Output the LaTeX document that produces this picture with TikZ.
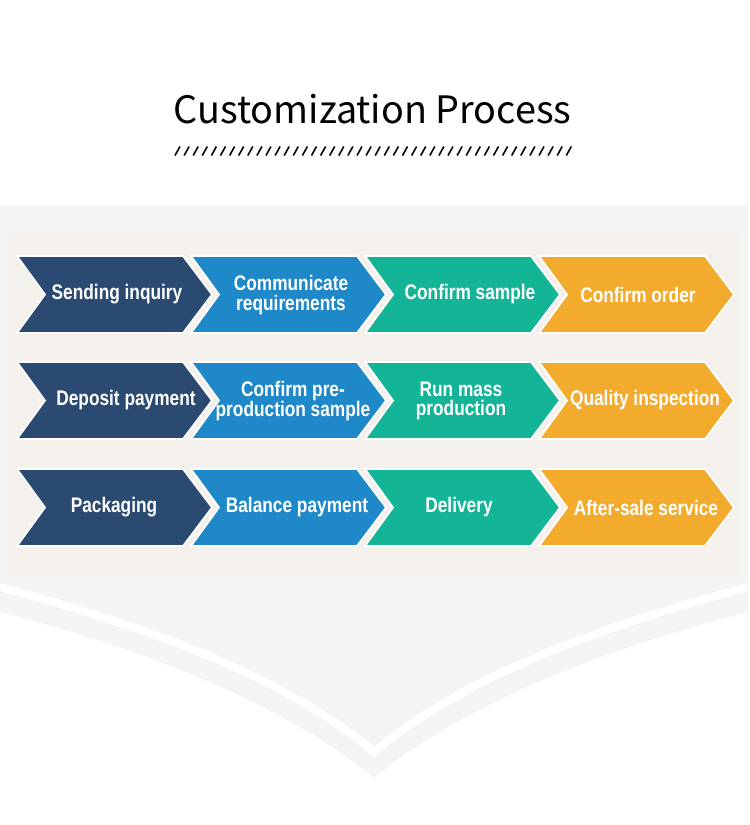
\documentclass[tikz,border=0pt]{standalone}
\usepackage{fontspec}
\usepackage{tikz}
\newfontfamily\titlefont{Noto Sans CJK SC}
\newfontfamily\chevfont[FakeStretch=0.82]{Liberation Sans}
\definecolor{navy}{HTML}{2B4A72}
\definecolor{skyblue}{HTML}{1F88C9}
\definecolor{teal}{HTML}{14B596}
\definecolor{amber}{HTML}{F2AB2D}
\definecolor{panel}{HTML}{F4F1EC}
\definecolor{backgray}{HTML}{F4F4F4}

\begin{document}
\begin{tikzpicture}[x=0.02cm,y=-0.02cm,
	title/.style={anchor=base,font=\titlefont\fontsize{21.5}{26}\selectfont},
	chevlabel/.style={text=white,align=center,inner sep=0pt,font=\chevfont\bfseries\fontsize{12}{11.2}\selectfont},
	chev/.style={draw=white,line width=1pt}]
	\useasboundingbox (0,0) rectangle (750,825);
	
	%background
	\fill[backgray] (0,205) -- (748,205) -- (748,612) .. controls (618,645) and (468,700) .. (374,778) .. controls (280,700) and (130,645) .. (0,612) -- cycle;
	\draw[white,line width=4.5pt] (0,587) .. controls (130,622) and (280,672) .. (374,752) .. controls (468,672) and (618,622) .. (748,587);
	\fill[panel] (8,232) rectangle (740,577);
	
	%title
	\node[title] (title) at (372.5,123) {Customization Process};
	\foreach \x in {0,...,43}
		\draw[line width=0.9pt] ({175+9.1*\x},155.5) -- ++(5,-9);
	
	%chevrons
	\foreach \y in {256,362,469}
		\foreach \x/\c in {17/navy,191/skyblue,365/teal,539/amber}
			\filldraw[chev,fill=\c] (\x,\y) -- ++(166,0) -- ++(29,38.5) -- ++(-29,38.5) -- ++(-166,0) -- ++(28,-38.5) -- cycle;
	
	%labels
	\node[chevlabel] (inquiry) at (117,294.5) {Sending inquiry};
	\node[chevlabel] (require) at (291,295)   {Communicate\\requirements};
	\node[chevlabel] (sample)  at (470,294.5) {Confirm sample};
	\node[chevlabel] (order)   at (638,294.5) {Confirm order};
	%
	\node[chevlabel] (deposit) at (126,400.5) {Deposit payment};
	\node[chevlabel] (preprod) at (293,401)   {Confirm pre-\\production sample};
	\node[chevlabel] (mass)    at (461,401)   {Run mass\\production};
	\node[chevlabel] (quality) at (645,400.5) {Quality inspection};
	%
	\node[chevlabel] (packing)   at (114,507.5) {Packaging};
	\node[chevlabel] (balance)   at (297,507.5) {Balance payment};
	\node[chevlabel] (delivery)  at (459,507.5) {Delivery};
	\node[chevlabel] (aftersale) at (646,507.5) {After-sale service};
\end{tikzpicture}
\end{document}
